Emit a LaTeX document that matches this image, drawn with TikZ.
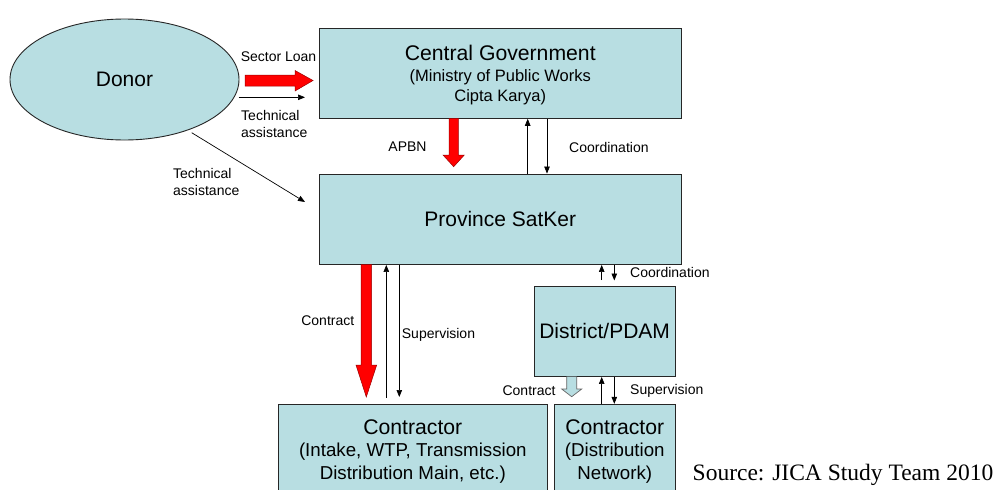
\documentclass[tikz,border=0pt]{standalone}
\usepackage{fontspec}
\setmainfont{Liberation Sans}
\newfontfamily\timesfont{Liberation Serif}
\usetikzlibrary{arrows.meta,shapes.geometric}
\definecolor{boxblue}{RGB}{184,222,226}
\begin{document}
\begin{tikzpicture}[x=1pt,y=-1pt,
  box/.style={draw=black!85, line width=0.9pt, fill=boxblue, inner sep=0pt},
  bigtxt/.style={font=\fontsize{21.2}{25}\selectfont, inner sep=0pt},
  midtxt/.style={font=\fontsize{16.5}{19}\selectfont, inner sep=0pt},
  subtxt/.style={font=\fontsize{18.7}{22}\selectfont, inner sep=0pt},
  lbl/.style={font=\fontsize{14}{17}\selectfont, inner sep=0pt},
  arr/.style={-{Triangle[length=7pt,width=5.5pt]}, line width=0.7pt},
  redarrow/.style={fill=red, draw=red!60!black, line width=0.5pt},
  hollow/.style={fill=boxblue, draw=black!60, line width=0.7pt}]
\useasboundingbox (0,0) rectangle (999,490);
\fill[white] (0,0) rectangle (999,490);

% boxes
\node[box, ellipse, minimum width=229pt, minimum height=121pt, font=\fontsize{21}{25}\selectfont] (donor) at (124.5,79.5) {Donor};
\node[box, minimum width=362.5pt, minimum height=90pt] (cg) at (500.25,73.3) {};
\node[box, minimum width=362.5pt, minimum height=90.5pt, font=\fontsize{21}{25}\selectfont] (ps) at (500.25,219.25) {Province SatKer};
\node[box, minimum width=140.7pt, minimum height=90.5pt, font=\fontsize{21}{25}\selectfont] (dp) at (604.65,331.25) {District/PDAM};
\node[box, minimum width=269pt, minimum height=92.7pt] (cl) at (412.8,450.65) {};
\node[box, minimum width=120.5pt, minimum height=92.7pt] (cr) at (614.75,450.65) {};

% box texts
\node[bigtxt] (cgt1) at (500.25,53) {Central Government};
\node[midtxt] (cgt2) at (500.25,77) {(Ministry of Public Works};
\node[midtxt] (cgt3) at (500.25,97) {Cipta Karya)};
\node[bigtxt] (clt1) at (412.8,427) {Contractor};
\node[subtxt] (clt2) at (412.8,452) {(Intake, WTP, Transmission};
\node[subtxt] (clt3) at (412.8,475) {Distribution Main, etc.)};
\node[bigtxt] (crt1) at (614.75,427) {Contractor};
\node[subtxt] (crt2) at (614.75,452) {(Distribution};
\node[subtxt] (crt3) at (614.75,475) {Network)};
\node[font=\timesfont\fontsize{23.5}{28}\selectfont, anchor=base west, inner sep=0pt] (src) at (692.5,480) {Source: JICA Study Team 2010};

% block arrows
\draw[redarrow] (245,75) -- (295,75) -- (295,70.5) -- (313,80.5) -- (295,91) -- (295,86) -- (245,86) -- cycle;
\draw[redarrow] (449,118.3) -- (449,155) -- (443,155) -- (453.7,166.7) -- (464.3,155) -- (458.3,155) -- (458.3,118.3) -- cycle;
\draw[redarrow] (361,264.5) -- (361,365) -- (356,365) -- (366.3,397) -- (376.7,365) -- (371.7,365) -- (371.7,264.5) -- cycle;
\draw[hollow] (566.7,376.5) -- (566.7,389) -- (561.7,389) -- (571.7,396.7) -- (581.7,389) -- (576.7,389) -- (576.7,376.5);

% thin arrows
\coordinate (ta1s) at (238.5,97.3);
\coordinate (ta1e) at (305,97.3);
\draw[arr] (ta1s) -- (ta1e);
\coordinate (ta2s) at (191.7,132.7);
\coordinate (ta2e) at (305,202);
\draw[arr] (ta2s) -- (ta2e);

\draw[arr] ([xshift=27.45pt]ps.north) -- ([xshift=27.45pt]cg.south);
\draw[arr] ([xshift=46.75pt]cg.south) -- ([xshift=46.75pt]ps.north);

\coordinate (xu) at (601.7,0);
\coordinate (xd) at (614.3,0);
\coordinate (c2u) at (601.7,280);
\coordinate (c2d) at (614.3,280.5);
\draw[arr] (c2u) -- (ps.south -| xu);
\draw[arr] (ps.south -| xd) -- (c2d);
\draw[arr] (cr.north -| xu) -- (dp.south -| xu);
\draw[arr] (dp.south -| xd) -- (cr.north -| xd);

\coordinate (s1u) at (386.3,397.7);
\coordinate (s1d) at (399.3,397);
\draw[arr] (s1u) -- (ps.south -| s1u);
\draw[arr] (ps.south -| s1d) -- (s1d);

% labels
\node[lbl] (lsl) at (278.5,57) {Sector Loan};
\node[lbl, align=left, anchor=west, font=\fontsize{14}{16.5}\selectfont] (lta1) at (241,124) {Technical\\assistance};
\node[lbl, align=left, anchor=west, font=\fontsize{14}{17.5}\selectfont] (lta2) at (173,182) {Technical\\assistance};
\node[lbl] (lapbn) at (407.5,147) {APBN};
\node[lbl, anchor=west] (lco1) at (569,147.7) {Coordination};
\node[lbl, anchor=west] (lco2) at (630,272) {Coordination};
\node[lbl] (lct1) at (327.8,321) {Contract};
\node[lbl, anchor=west] (lsu1) at (401.7,335) {Supervision};
\node[lbl, anchor=east] (lct2) at (555.7,391) {Contract};
\node[lbl, anchor=west] (lsu2) at (630,391) {Supervision};
\end{tikzpicture}
\end{document}
